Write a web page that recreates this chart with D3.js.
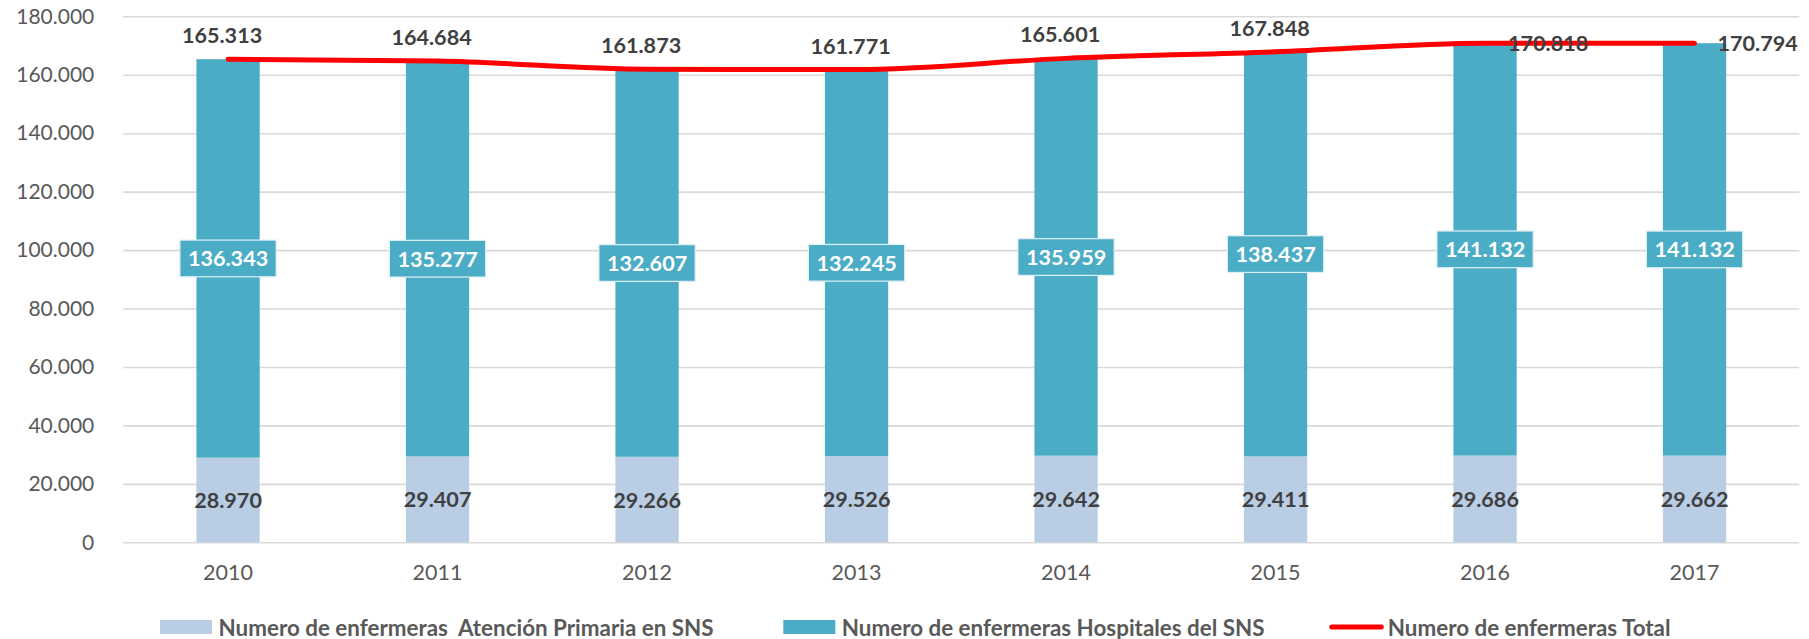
<!DOCTYPE html>
<html>
<head>
<meta charset="utf-8">
<script src="https://cdn.jsdelivr.net/npm/d3@7"></script>
<style>
  html, body { margin: 0; padding: 0; background: #ffffff; }
  svg { display: block; }
  text { font-family: Lato, "Open Sans", sans-serif; }
</style>
</head>
<body>
<svg id="chart" width="1809" height="639"></svg>
<script>
// ---------- data ----------
const years = ["2010", "2011", "2012", "2013", "2014", "2015", "2016", "2017"];
const primaria = [28970, 29407, 29266, 29526, 29642, 29411, 29686, 29662];
const hospitales = [136343, 135277, 132607, 132245, 135959, 138437, 141132, 141132];
const total = [165313, 164684, 161873, 161771, 165601, 167848, 170818, 170794];
const totalLabelPos = ["above", "above", "above", "above", "above", "above", "right", "right"];
const yTicks = [0, 20000, 40000, 60000, 80000, 100000, 120000, 140000, 160000, 180000];
const seriesNames = [
  "Numero de enfermeras  Atención Primaria en SNS",
  "Numero de enfermeras Hospitales del SNS",
  "Numero de enfermeras Total"
];

// ---------- layout ----------
const W = 1809, H = 639;
const plot = { left: 123.3, right: 1799.3, top: 16.3, bottom: 542.3 };
const colPrim = "#B9CDE5", colHosp = "#4BACC6", colTotal = "#FF0000";

const loc = d3.formatLocale({ decimal: ",", thousands: ".", grouping: [3], currency: ["", "€"] });
const fmt = loc.format(",");

const svg = d3.select("#chart");

const x = d3.scaleBand().domain(years).range([plot.left, plot.right])
  .paddingInner(0.698).paddingOuter(0.349);
const y = d3.scaleLinear().domain([0, 180000]).range([plot.bottom, plot.top]);

// gridlines + y axis
const yAxis = d3.axisLeft(y).tickValues(yTicks).tickFormat(d => fmt(d))
  .tickSizeInner(-(plot.right - plot.left)).tickSizeOuter(0).tickPadding(29);
const gy = svg.append("g").attr("transform", `translate(${plot.left},0)`).call(yAxis);
gy.select(".domain").remove();
gy.selectAll(".tick line").attr("stroke", "#d9d9d9").attr("stroke-width", 1.6);
gy.selectAll(".tick text").attr("fill", "#595959").attr("font-size", 21)
  .attr("font-family", "Lato, 'Open Sans', sans-serif");

// x axis labels
const xAxis = d3.axisBottom(x).tickSize(0).tickPadding(22);
const gx = svg.append("g").attr("transform", `translate(0,${plot.bottom})`).call(xAxis);
gx.select(".domain").remove();
gx.selectAll(".tick text").attr("fill", "#595959").attr("font-size", 21.5)
  .attr("font-family", "Lato, 'Open Sans', sans-serif");

// stacked bars
const rows = years.map((yr, i) => ({ yr, p: primaria[i], h: hospitales[i], t: total[i], pos: totalLabelPos[i] }));
const bars = svg.append("g");
bars.selectAll("rect.prim").data(rows).join("rect").attr("class", "prim")
  .attr("x", d => x(d.yr)).attr("width", x.bandwidth())
  .attr("y", d => y(d.p)).attr("height", d => y(0) - y(d.p))
  .attr("fill", colPrim);
bars.selectAll("rect.hosp").data(rows).join("rect").attr("class", "hosp")
  .attr("x", d => x(d.yr)).attr("width", x.bandwidth())
  .attr("y", d => y(d.p + d.h)).attr("height", d => y(d.p) - y(d.p + d.h))
  .attr("fill", colHosp);

// total line
const cx = d => x(d.yr) + x.bandwidth() / 2;
const line = d3.line().x(cx).y(d => y(d.t)).curve(d3.curveMonotoneX);
svg.append("path").datum(rows).attr("d", line)
  .attr("fill", "none").attr("stroke", colTotal).attr("stroke-width", 5)
  .attr("stroke-linecap", "round").attr("stroke-linejoin", "round");

// labels: primaria
const lblFont = 21.6;
svg.append("g").selectAll("text").data(rows).join("text")
  .attr("x", cx).attr("y", d => y(d.p / 2))
  .attr("text-anchor", "middle").attr("dominant-baseline", "central")
  .attr("font-weight", "bold").attr("font-size", lblFont).attr("fill", "#404040")
  .text(d => fmt(d.p));

// labels: hospitales (boxed)
const hg = svg.append("g").selectAll("g").data(rows).join("g")
  .attr("transform", d => `translate(${cx(d)},${y(d.p + d.h / 2)})`);
hg.append("rect").attr("fill", colHosp).attr("stroke", "#dff0f5").attr("stroke-width", 1.2);
const hText = hg.append("text").attr("text-anchor", "middle").attr("dominant-baseline", "central")
  .attr("font-weight", "bold").attr("font-size", lblFont).attr("fill", "#ffffff")
  .text(d => fmt(d.h));
hText.each(function () {
  const bb = this.getBBox();
  const w = bb.width + 16, h = 36.7;
  d3.select(this.parentNode).select("rect")
    .attr("x", -w / 2).attr("y", -h / 2).attr("width", w).attr("height", h);
});

// labels: total
svg.append("g").selectAll("text").data(rows).join("text")
  .attr("x", d => d.pos === "right" ? cx(d) + 23 : cx(d) - 6)
  .attr("y", d => d.pos === "right" ? y(d.t) : y(d.t) - 24)
  .attr("text-anchor", d => d.pos === "right" ? "start" : "middle")
  .attr("dominant-baseline", "central")
  .attr("font-weight", "bold").attr("font-size", lblFont).attr("fill", "#404040")
  .text(d => fmt(d.t));

// legend
const legY = 627;
const legend = svg.append("g");
const legX = [160, 783.3, 1329.3];
seriesNames.forEach((name, i) => {
  const g = legend.append("g").attr("transform", `translate(${legX[i]},${legY})`);
  if (i < 2) {
    g.append("rect").attr("x", 0).attr("y", -7).attr("width", 52).attr("height", 14)
      .attr("fill", i === 0 ? colPrim : colHosp);
  } else {
    g.append("line").attr("x1", 2.5).attr("x2", 52).attr("y1", 0).attr("y2", 0)
      .attr("stroke", colTotal).attr("stroke-width", 5).attr("stroke-linecap", "round");
  }
  g.append("text").attr("x", 58.5).attr("y", 0).attr("dominant-baseline", "central")
    .attr("font-weight", "bold").attr("font-size", 22.4).attr("fill", "#595959")
    .style("white-space", "pre").text(name);
});
</script>
</body>
</html>
